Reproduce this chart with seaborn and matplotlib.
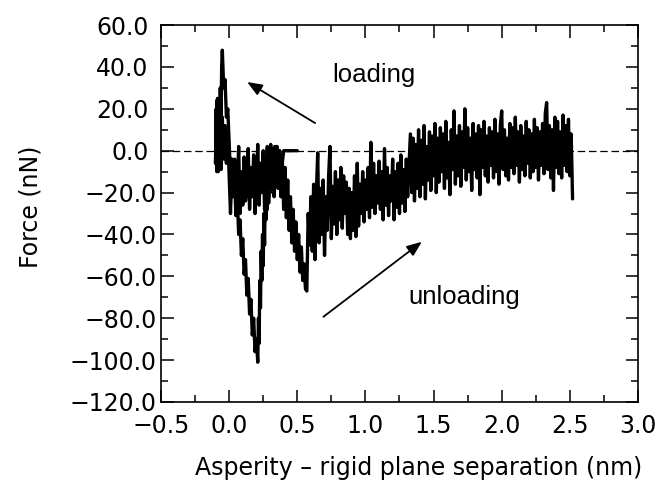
import numpy as np
import pandas as pd
import matplotlib.pyplot as plt
import matplotlib.transforms as mtransforms
import seaborn as sns

# ---------- values (separation in nm, force in nN) ----------
# loading branch: flat approach, snap-in, then pushed into contact
load_flat_x = [0.50, 0.40]
load_flat_y = [0.0, 0.0]

load_noise_x0, load_noise_dx = 0.39, -0.01
load_noise_y = [-6, -14, 0, -18, 2, -10, -22, 1, -16, -4,
                -25, 2, -12, -28, 0, -20, -6, -26, 3, -15,
                -30, -2, -22, -8, -28, 1, -18, -24, -3, -26,
                -10, -30, 2, -16, -27, -4, -22, -8, -30, -12]

load_contact_x0, load_contact_dx = -0.01, -0.01
load_contact_y = [8, -6, 12, -4, 16, -9, 22, -10, 24, -6]

# unloading branch: contact peak, first slip, second slip, then noisy tail
contact_x0, contact_dx = -0.10, 0.005
contact_y = [-6, 20, -10, 25, 0, 18, -8, 30, 8, 40, 48]

slip1_x0, slip1_dx = -0.04, 0.01
slip1_y = [30, 34, 16, 20, 4, -12, -4, -21, -14, -31,
           -23, -40, -33, -50, -42, -59, -52, -69, -61, -78,
           -71, -88, -80, -96, -90, -101]

rebound_x0, rebound_dx = 0.215, 0.005
rebound_y = [-80, -92, -62, -75, -48, -62, -40, -55, -30, -45,
             -18, -33, -8, -28, -2, -22, 0, -18, 3, -14,
             -2, -20, 1, -12, 2, -8]

slip2_x0, slip2_dx = 0.35, 0.01
slip2_y = [2, -15, 0, -22, -4, -28, -8, -32, -14, -38,
           -22, -44, -28, -48, -34, -52, -40, -58, -46, -62,
           -54, -66, -67]

tail_x0, tail_dx = 0.58, 0.01
tail_y = [-30, -45, -22, -48, -16, -52, -20, -1, -44, -18,
          -40, -14, -50, -22, -38, -12, 2, -42, -17, -35,
          -10, -40, -14, -33, -8, -37, -12, -30, -15, -40,
          -18, -42, -20, -38, -12, -41, -6, -36, -16, -30,
          -10, -34, -14, -28, -8, -32, 4, -27, -6, -30,
          -12, -25, -5, -28, -10, -33, 1, -26, -8, -31,
          -12, -24, -4, -33, -10, -27, -6, -30, -2, -25,
          -9, -29, -4, -22, -7]

far_x0, far_dx = 1.33, 0.01
far_y = [8, -20, 6, -24, 3, -18, 10, -22, 5, -16,
         12, -23, 2, -14, 9, -19, 7, -12, 13, -20,
         6, -15, 11, -10, 8, -18, 14, -13, 4, -21,
         10, -9, 19, -16, 7, -12, 12, -17, 9, -8,
         20, -14, 11, -10, 6, -19, 13, -9, 8, -13,
         12, -21, 10, -8, 14, -12, 7, -15, 11, -7,
         9, -13, 15, -10, 8, -16, 12, 19, -9, 10,
         -12, 6, -14, 13, -8, 11, -11, 16, -7, 9,
         -15, 12, -9, 7, -12, 14, -6, 10, -13, 8,
         -10, 15, -8, 11, -14, 9, -7, 13, -11, 18,
         23, -9, 12, -13, 10, -19, 16, -8, 14, -11,
         9, -13, 17, -7, 12, -10, 15, -12, 8, -23]


def sampled(x0, dx, ys):
    return [round(x0 + dx * i, 4) for i in range(len(ys))]


load_x = (load_flat_x + sampled(load_noise_x0, load_noise_dx, load_noise_y)
          + sampled(load_contact_x0, load_contact_dx, load_contact_y))
load_y = load_flat_y + load_noise_y + load_contact_y

unload_x = (sampled(contact_x0, contact_dx, contact_y)
            + sampled(slip1_x0, slip1_dx, slip1_y)
            + sampled(rebound_x0, rebound_dx, rebound_y)
            + sampled(slip2_x0, slip2_dx, slip2_y)
            + sampled(tail_x0, tail_dx, tail_y)
            + sampled(far_x0, far_dx, far_y))
unload_y = contact_y + slip1_y + rebound_y + slip2_y + tail_y + far_y

df = pd.concat([
    pd.DataFrame({"sep": load_x, "force": load_y, "branch": "loading"}),
    pd.DataFrame({"sep": unload_x, "force": unload_y, "branch": "unloading"}),
], ignore_index=True)

# ---------- plot ----------
sns.set_style("ticks")
plt.rcParams["font.family"] = ["DejaVu Sans"]
plt.rcParams["axes.unicode_minus"] = True

fig = plt.figure(figsize=(6.62, 4.82), dpi=100)
ax = fig.add_axes([0.2432, 0.166, 0.7205, 0.782])

ax.axhline(0, color="black", lw=0.9, ls=(0, (6, 3)), zorder=1)

for branch, part in df.groupby("branch"):
    sns.lineplot(data=part, x="sep", y="force", sort=False, estimator=None,
                 color="black", lw=2.4, ax=ax, legend=False, zorder=2)

ax.set_xlim(-0.5, 3.0)
ax.set_ylim(-120, 60)
ax.set_xticks(np.arange(-0.5, 3.01, 0.5))
ax.set_xticks(np.arange(-0.25, 3.0, 0.5), minor=True)
ax.set_yticks(np.arange(-120, 61, 20))
ax.set_yticks(np.arange(-110, 60, 20), minor=True)
fmt = plt.FuncFormatter(lambda v, p: f"{v:.1f}".replace("-", "\u2212"))
ax.xaxis.set_major_formatter(fmt)
ax.yaxis.set_major_formatter(fmt)

ax.tick_params(which="both", direction="in", top=True, right=True,
               width=1.1, color="black", labelsize=17, labelcolor="black")
ax.tick_params(which="major", length=9)
ax.tick_params(which="minor", length=5)
ax.tick_params(axis="x", pad=9)
ax.tick_params(axis="y", pad=9)
for s in ax.spines.values():
    s.set_linewidth(1.2)
    s.set_color("black")

# negative y labels sit closer to the axis in the original
shift = mtransforms.ScaledTranslation(0.08, 0, fig.dpi_scale_trans)
for val, lab in zip(ax.get_yticks(), ax.get_yticklabels()):
    if val < 0:
        lab.set_transform(lab.get_transform() + shift)

ax.set_xlabel("Asperity \u2013 rigid plane separation (nm)", fontsize=17, color="black")
ax.set_ylabel("Force (nN)", fontsize=17, color="black")
ax.xaxis.set_label_coords(0.541, -0.143)
ax.yaxis.set_label_coords(-0.249, 0.517)

arrow = dict(arrowstyle="-|>,head_length=0.45,head_width=0.18", color="black",
             lw=1.3, shrinkA=0, shrinkB=0, mutation_scale=20)
ax.annotate("", xy=(0.132, 32.8), xytext=(0.631, 13.2), arrowprops=arrow)
ax.annotate("", xy=(1.414, -43.5), xytext=(0.692, -79.3), arrowprops=arrow)
ax.text(0.756, 36, "loading", fontsize=18.5, family=["Liberation Sans"],
        color="black", va="center", ha="left")
ax.text(1.313, -70, "unloading", fontsize=18.5, family=["Liberation Sans"],
        color="black", va="center", ha="left")

fig.savefig("out.png", dpi=100)
